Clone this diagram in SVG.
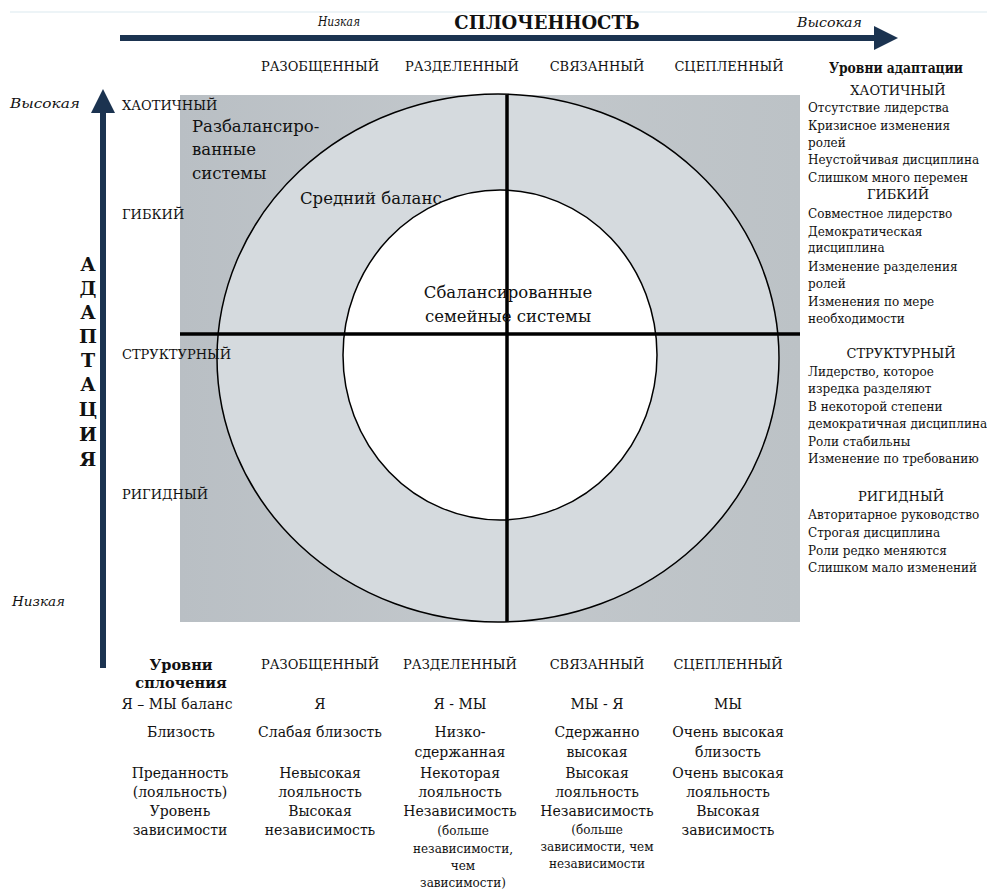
<svg xmlns="http://www.w3.org/2000/svg" width="987" height="891" viewBox="0 0 987 891" font-family="'DejaVu Serif', 'Liberation Serif', serif">
<defs>
<linearGradient id="bg" x1="0" y1="0" x2="1" y2="0">
<stop offset="0" stop-color="#b9bfc4"/><stop offset="0.5" stop-color="#c3c8cc"/><stop offset="1" stop-color="#bcc2c6"/>
</linearGradient>
<marker id="ah" markerWidth="4" markerHeight="4" refX="1" refY="2" orient="auto" markerUnits="strokeWidth">
<path d="M0,0 L4,2 L0,4 z" fill="#1b3350"/>
</marker>
<style>
text{font-family:'DejaVu Serif','Liberation Serif',serif;fill:#111}
.h{font-size:13px}
.r{font-size:12px}
.b{font-size:14px;text-anchor:middle}
.s{font-size:12px;text-anchor:middle}
.c{text-anchor:middle}
.i{font-style:italic;font-size:13px}
.bd{font-weight:bold}
.big{font-size:16.5px}
.ax{stroke:#1b3350;stroke-width:6;fill:none}
.ln{stroke:#000;stroke-width:3.5}
</style>
</defs>
<line x1="10" y1="12" x2="987" y2="12" stroke="#dbe9ef" stroke-width="1"/>
<g id="connectors">
<line class="ax" x1="120" y1="38" x2="880" y2="38" marker-end="url(#ah)"/>
<line class="ax" x1="103" y1="668" x2="103" y2="107" marker-end="url(#ah)"/>
</g>
<g id="diagram">
<rect x="180" y="95" width="620" height="527" fill="url(#bg)"/>
<ellipse cx="498" cy="358" rx="281" ry="264" fill="#d5dade" stroke="#000" stroke-width="1.5"/>
<ellipse cx="500" cy="355" rx="157" ry="165" fill="#fff" stroke="#000" stroke-width="1.5"/>
<line class="ln" x1="180" y1="334" x2="800" y2="334"/>
<line class="ln" x1="507" y1="95" x2="507" y2="622"/>
</g>
<g id="header">
<text class="i" x="318" y="26" textLength="42" lengthAdjust="spacingAndGlyphs">Низкая</text>
<text class="bd c" x="547" y="29" style="font-size:18px">СПЛОЧЕННОСТЬ</text>
<text class="i" x="797" y="27" textLength="65" lengthAdjust="spacingAndGlyphs">Высокая</text>
<text class="h c" x="320" y="71">РАЗОБЩЕННЫЙ</text>
<text class="h c" x="462" y="71">РАЗДЕЛЕННЫЙ</text>
<text class="h c" x="597" y="71">СВЯЗАННЫЙ</text>
<text class="h c" x="729" y="71">СЦЕПЛЕННЫЙ</text>
</g>
<g id="left-axis">
<text class="i" x="10" y="108" textLength="70" lengthAdjust="spacingAndGlyphs">Высокая</text>
<text class="i" x="12" y="606" textLength="53" lengthAdjust="spacingAndGlyphs">Низкая</text>
<text class="h" x="122" y="110">ХАОТИЧНЫЙ</text>
<text class="h" x="122" y="219">ГИБКИЙ</text>
<text class="h" x="122" y="359">СТРУКТУРНЫЙ</text>
<text class="h" x="122" y="499">РИГИДНЫЙ</text>
<g class="bd" style="font-size:19px;text-anchor:middle">
<text x="88" y="271">А</text><text x="88" y="295">Д</text><text x="88" y="319">А</text>
<text x="88" y="343">П</text><text x="88" y="367">Т</text><text x="88" y="391">А</text>
<text x="88" y="416">Ц</text><text x="88" y="441">И</text><text x="88" y="466">Я</text>
</g>
</g>
<g id="zones">
<text class="big" x="192" y="132">Разбалансиро-</text>
<text class="big" x="192" y="155">ванные</text>
<text class="big" x="192" y="179">системы</text>
<text class="big" x="300" y="204">Средний баланс</text>
<text class="big c" x="508" y="298">Сбалансированные</text>
<text class="big c" x="508" y="322">семейные системы</text>
</g>
<g id="adaptation-levels">
<text class="bd c" x="896" y="73" style="font-size:14px" textLength="134" lengthAdjust="spacingAndGlyphs">Уровни адаптации</text>
<text class="h c" x="898" y="95">ХАОТИЧНЫЙ</text>
<text class="r" x="808" y="112">Отсутствие лидерства</text>
<text class="r" x="808" y="130">Кризисное изменения</text>
<text class="r" x="808" y="147">ролей</text>
<text class="r" x="808" y="164">Неустойчивая дисциплина</text>
<text class="r" x="808" y="182">Слишком много перемен</text>
<text class="h c" x="898" y="199">ГИБКИЙ</text>
<text class="r" x="808" y="218">Совместное лидерство</text>
<text class="r" x="808" y="236">Демократическая</text>
<text class="r" x="808" y="252">дисциплина</text>
<text class="r" x="808" y="271">Изменение разделения</text>
<text class="r" x="808" y="288">ролей</text>
<text class="r" x="808" y="306">Изменения по мере</text>
<text class="r" x="808" y="323">необходимости</text>
<text class="h c" x="901" y="358">СТРУКТУРНЫЙ</text>
<text class="r" x="808" y="376">Лидерство, которое</text>
<text class="r" x="808" y="393">изредка разделяют</text>
<text class="r" x="808" y="411">В некоторой степени</text>
<text class="r" x="808" y="428">демократичная дисциплина</text>
<text class="r" x="808" y="446">Роли стабильны</text>
<text class="r" x="808" y="463">Изменение по требованию</text>
<text class="h c" x="901" y="501">РИГИДНЫЙ</text>
<text class="r" x="808" y="519">Авторитарное руководство</text>
<text class="r" x="808" y="537">Строгая дисциплина</text>
<text class="r" x="808" y="555">Роли редко меняются</text>
<text class="r" x="808" y="572">Слишком мало изменений</text>
</g>
<g id="cohesion-levels">
<text class="bd c" x="181" y="670" style="font-size:14.5px">Уровни</text>
<text class="bd c" x="181" y="688" style="font-size:14.5px">сплочения</text>
<text class="b" x="177" y="709">Я – МЫ баланс</text>
<text class="b" x="181" y="737">Близость</text>
<text class="b" x="180" y="778">Преданность</text>
<text class="b" x="180" y="797">(лояльность)</text>
<text class="b" x="180" y="816">Уровень</text>
<text class="b" x="180" y="835">зависимости</text>

<text class="h c" x="320" y="669">РАЗОБЩЕННЫЙ</text>
<text class="b" x="320" y="709">Я</text>
<text class="b" x="320" y="737">Слабая близость</text>
<text class="b" x="320" y="778">Невысокая</text>
<text class="b" x="320" y="797">лояльность</text>
<text class="b" x="320" y="816">Высокая</text>
<text class="b" x="320" y="835">независимость</text>

<text class="h c" x="460" y="669">РАЗДЕЛЕННЫЙ</text>
<text class="b" x="460" y="709">Я - МЫ</text>
<text class="b" x="460" y="737">Низко-</text>
<text class="b" x="460" y="757">сдержанная</text>
<text class="b" x="460" y="778">Некоторая</text>
<text class="b" x="460" y="797">лояльность</text>
<text class="b" x="460" y="816">Независимость</text>
<text class="s" x="463" y="835">(больше</text>
<text class="s" x="463" y="853">независимости,</text>
<text class="s" x="463" y="870">чем</text>
<text class="s" x="463" y="887">зависимости)</text>

<text class="h c" x="597" y="669">СВЯЗАННЫЙ</text>
<text class="b" x="597" y="709">МЫ - Я</text>
<text class="b" x="597" y="737">Сдержанно</text>
<text class="b" x="597" y="757">высокая</text>
<text class="b" x="597" y="778">Высокая</text>
<text class="b" x="597" y="797">лояльность</text>
<text class="b" x="597" y="816">Независимость</text>
<text class="s" x="597" y="834">(больше</text>
<text class="s" x="597" y="851">зависимости, чем</text>
<text class="s" x="597" y="868">независимости</text>

<text class="h c" x="728" y="669">СЦЕПЛЕННЫЙ</text>
<text class="b" x="728" y="709">МЫ</text>
<text class="b" x="728" y="737">Очень высокая</text>
<text class="b" x="728" y="757">близость</text>
<text class="b" x="728" y="778">Очень высокая</text>
<text class="b" x="728" y="797">лояльность</text>
<text class="b" x="728" y="816">Высокая</text>
<text class="b" x="728" y="835">зависимость</text>
</g>
</svg>
